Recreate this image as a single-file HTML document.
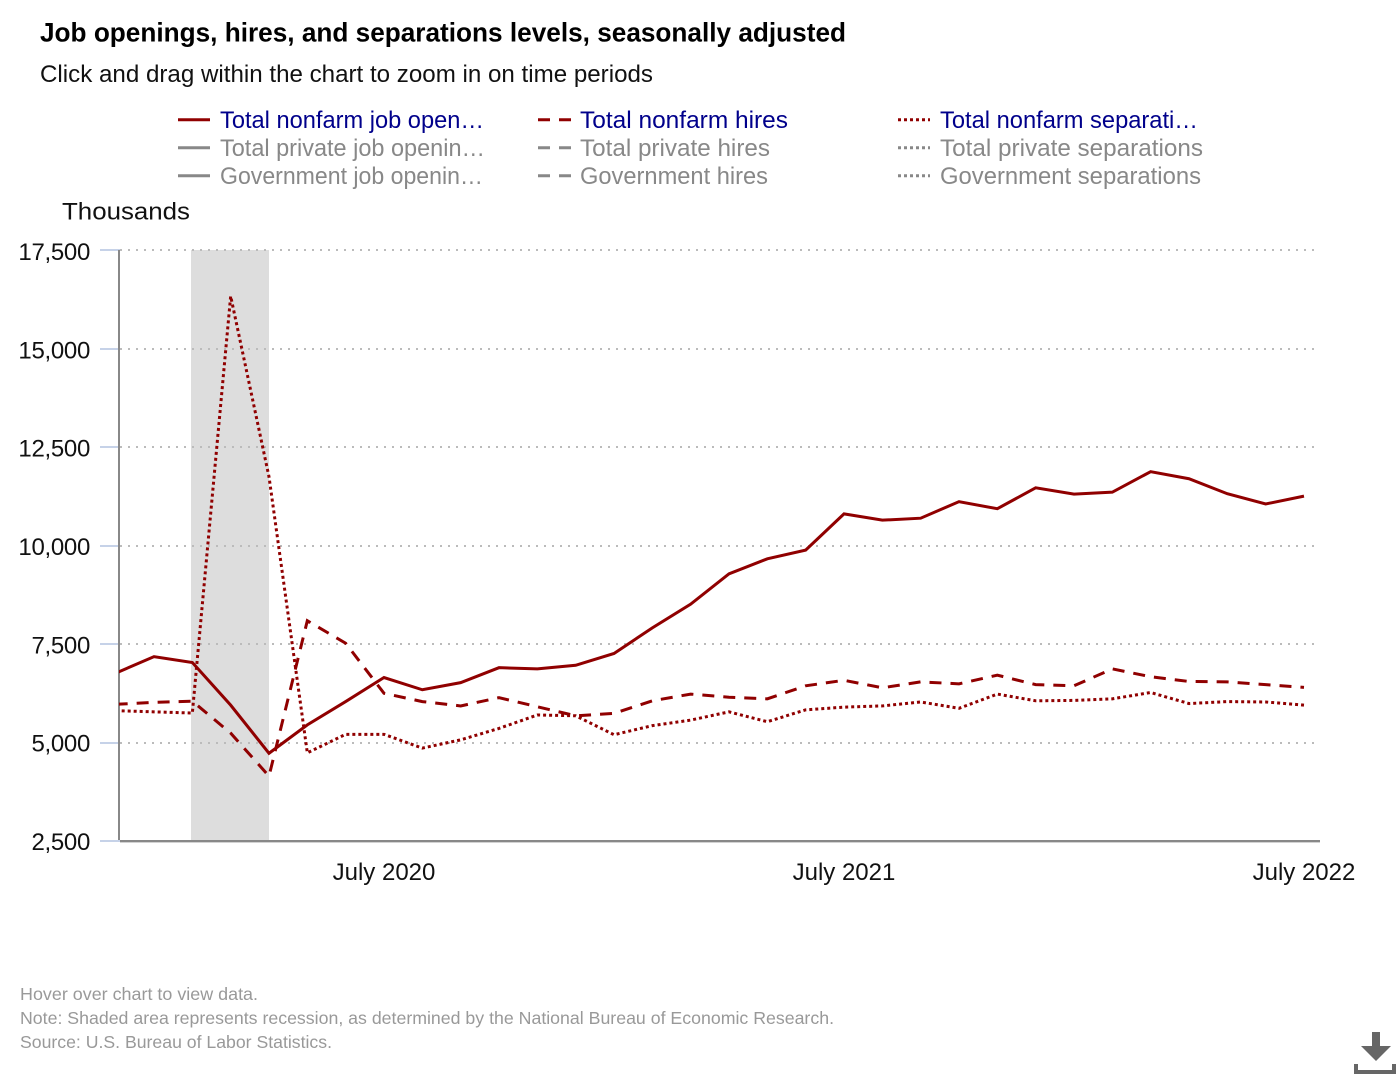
<!DOCTYPE html>
<html lang="en">
<head>
<meta charset="utf-8">
<title>Job openings, hires, and separations levels, seasonally adjusted</title>
<style>
html,body{margin:0;padding:0;background:#fff;width:1400px;height:1080px;overflow:hidden}
svg{display:block;font-family:"Liberation Sans",Arial,sans-serif}
.leg{font-size:24px;cursor:pointer}
.on{fill:#00008b}
.off{fill:#888888}
.foot{font-size:17.5px;fill:#999999}
</style>
</head>
<body>
<svg id="chart" width="1400" height="1080" viewBox="0 0 1400 1080" xmlns="http://www.w3.org/2000/svg">
<defs><clipPath id="plot-clip"><rect x="119" y="240" width="1201" height="602"/></clipPath></defs>
<text x="40" y="41.5" font-size="27" font-weight="700" fill="#000" textLength="806" lengthAdjust="spacingAndGlyphs">Job openings, hires, and separations levels, seasonally adjusted</text>
<text x="40" y="82" font-size="24" fill="#111" textLength="613" lengthAdjust="spacingAndGlyphs">Click and drag within the chart to zoom in on time periods</text>

<g>
<g><line x1="178" x2="210" y1="119.7" y2="119.7" stroke="#900000" stroke-width="3"/><text class="leg on" x="220" y="128" textLength="264" lengthAdjust="spacingAndGlyphs">Total nonfarm job open…</text></g>
<g><line x1="538" x2="571" y1="119.7" y2="119.7" stroke="#900000" stroke-width="3" stroke-dasharray="12 9"/><text class="leg on" x="580" y="128" textLength="208" lengthAdjust="spacingAndGlyphs">Total nonfarm hires</text></g>
<g><line x1="898" x2="930" y1="119.7" y2="119.7" stroke="#900000" stroke-width="3" stroke-dasharray="3 3"/><text class="leg on" x="940" y="128" textLength="258" lengthAdjust="spacingAndGlyphs">Total nonfarm separati…</text></g>
<g><line x1="178" x2="210" y1="147.7" y2="147.7" stroke="#888" stroke-width="3"/><text class="leg off" x="220" y="156" textLength="265" lengthAdjust="spacingAndGlyphs">Total private job openin…</text></g>
<g><line x1="538" x2="571" y1="147.7" y2="147.7" stroke="#888" stroke-width="3" stroke-dasharray="12 9"/><text class="leg off" x="580" y="156" textLength="190" lengthAdjust="spacingAndGlyphs">Total private hires</text></g>
<g><line x1="898" x2="930" y1="147.7" y2="147.7" stroke="#888" stroke-width="3" stroke-dasharray="3 3"/><text class="leg off" x="940" y="156" textLength="263" lengthAdjust="spacingAndGlyphs">Total private separations</text></g>
<g><line x1="178" x2="210" y1="175.7" y2="175.7" stroke="#888" stroke-width="3"/><text class="leg off" x="220" y="184" textLength="263" lengthAdjust="spacingAndGlyphs">Government job openin…</text></g>
<g><line x1="538" x2="571" y1="175.7" y2="175.7" stroke="#888" stroke-width="3" stroke-dasharray="12 9"/><text class="leg off" x="580" y="184" textLength="188" lengthAdjust="spacingAndGlyphs">Government hires</text></g>
<g><line x1="898" x2="930" y1="175.7" y2="175.7" stroke="#888" stroke-width="3" stroke-dasharray="3 3"/><text class="leg off" x="940" y="184" textLength="261" lengthAdjust="spacingAndGlyphs">Government separations</text></g>
</g>

<text x="62" y="219.5" font-size="24" fill="#111" textLength="128" lengthAdjust="spacingAndGlyphs">Thousands</text>

<g id="plot"></g>

<text class="foot" x="20" y="1000" textLength="238" lengthAdjust="spacingAndGlyphs">Hover over chart to view data.</text>
<text class="foot" x="20" y="1024" textLength="814" lengthAdjust="spacingAndGlyphs">Note: Shaded area represents recession, as determined by the National Bureau of Economic Research.</text>
<text class="foot" x="20" y="1048" textLength="312" lengthAdjust="spacingAndGlyphs">Source: U.S. Bureau of Labor Statistics.</text>

<g fill="#666666">
<polygon points="1372,1032 1380,1032 1380,1046 1391,1046 1376,1061 1361,1046 1372,1046"/>
<polygon points="1354,1064 1358,1064 1358,1070 1392,1070 1392,1064 1396,1064 1396,1074 1354,1074"/>
</g>
</svg>
<script>
// Month index 0 = December 2019
const yTickValues = [2500, 5000, 7500, 10000, 12500, 15000, 17500];
const xTickLabels = ["July 2020", "July 2021", "July 2022"];
const xTickMonths = [7, 19, 31];
const recessionMonths = [2, 4];
const openings = [6770,7190,7040,5960,4740,5460,6050,6660,6350,6530,6910,6880,6970,7270,7920,8520,9290,9670,9890,10810,10650,10700,11120,10940,11470,11310,11360,11880,11700,11320,11060,11260];
const hires = [5980,6030,6060,5250,4160,8100,7530,6260,6050,5940,6150,5920,5690,5750,6070,6240,6160,6120,6450,6590,6400,6550,6500,6720,6480,6450,6880,6680,6560,6550,6480,6410];
const separations = [5820,5790,5760,16330,11750,4750,5220,5220,4870,5080,5370,5710,5690,5210,5440,5580,5790,5540,5840,5910,5940,6040,5880,6240,6070,6080,6120,6280,6000,6050,6040,5960];

const NS = 'http://www.w3.org/2000/svg';
const plot = document.getElementById('plot');
function x(month) { return 115.67 + month * 38.333; }
function y(value) { return 841.6 - (value - 2500) * 98.6 / 2500; }
function gridY(value) { return Math.min(841, Math.max(249, Math.round(y(value)))); }
function labelY(value) { return 850 - (value - 2500) * 98.33 / 2500; }
function make(tag, parent) {
  const el = document.createElementNS(NS, tag);
  parent.appendChild(el);
  return el;
}
function fmt(v) { return String(v).replace(/\B(?=(\d{3})+$)/g, ','); }
function linePath(values) {
  return values.map((v, i) => (i ? 'L' : 'M') + x(i).toFixed(2) + ' ' + y(v).toFixed(2)).join(' ');
}

const band = make('rect', plot);


band.setAttribute('x', Math.round(x(recessionMonths[0])) - 1);
band.setAttribute('width', Math.round(x(recessionMonths[1])) - Math.round(x(recessionMonths[0])) + 1);
band.setAttribute('y', 250);
band.setAttribute('height', 591);
band.setAttribute('fill', '#dddddd');

yTickValues.forEach(function (v) {
  const py = gridY(v);
  if (v !== yTickValues[0]) {
    const grid = make('line', plot);
    
    
    grid.setAttribute('x1', 120);
    grid.setAttribute('x2', 1316);
    grid.setAttribute('y1', py);
    grid.setAttribute('y2', py);
    grid.setAttribute('stroke', '#bbbbbb');
    grid.setAttribute('stroke-width', 2);
    grid.setAttribute('stroke-dasharray', '2 6');
  }
  const tick = make('line', plot);
  
  
  tick.setAttribute('x1', 100);
  tick.setAttribute('x2', 120);
  tick.setAttribute('y1', py);
  tick.setAttribute('y2', py);
  tick.setAttribute('stroke', '#c6d2e8');
  tick.setAttribute('stroke-width', 2);
  const label = make('text', plot);
  
  
  label.setAttribute('x', 90);
  label.setAttribute('y', labelY(v));
  label.setAttribute('text-anchor', 'end');
  label.setAttribute('font-size', 24);
  label.setAttribute('letter-spacing', '-0.3');
  label.setAttribute('fill', '#111111');
  label.textContent = fmt(v);
});

const yAxis = make('line', plot);


yAxis.setAttribute('x1', 119);
yAxis.setAttribute('x2', 119);
yAxis.setAttribute('y1', 250);
yAxis.setAttribute('y2', 840);
yAxis.setAttribute('stroke', '#888888');
yAxis.setAttribute('stroke-width', 2);

const xAxis = make('line', plot);


xAxis.setAttribute('x1', 120);
xAxis.setAttribute('x2', 1320);
xAxis.setAttribute('y1', 841.2);
xAxis.setAttribute('y2', 841.2);
xAxis.setAttribute('stroke', '#888888');
xAxis.setAttribute('stroke-width', 2.4);

xTickLabels.forEach(function (txt, i) {
  const label = make('text', plot);
  
  
  label.setAttribute('x', x(xTickMonths[i]));
  label.setAttribute('y', 880);
  label.setAttribute('text-anchor', 'middle');
  label.setAttribute('font-size', 24);
  label.setAttribute('fill', '#111111');
  label.textContent = txt;
});

const seriesGroup = make('g', plot);
seriesGroup.setAttribute('clip-path', 'url(#plot-clip)');



const sepLine = make('path', seriesGroup);


sepLine.setAttribute('d', linePath(separations));
sepLine.setAttribute('fill', 'none');
sepLine.setAttribute('stroke', '#900000');
sepLine.setAttribute('stroke-width', 3);
sepLine.setAttribute('stroke-dasharray', '3 3');

const hiresLine = make('path', seriesGroup);


hiresLine.setAttribute('d', linePath(hires));
hiresLine.setAttribute('fill', 'none');
hiresLine.setAttribute('stroke', '#900000');
hiresLine.setAttribute('stroke-width', 3);
hiresLine.setAttribute('stroke-dasharray', '12 9');

const openLine = make('path', seriesGroup);


openLine.setAttribute('d', linePath(openings));
openLine.setAttribute('fill', 'none');
openLine.setAttribute('stroke', '#900000');
openLine.setAttribute('stroke-width', 3);
</script>
</body>
</html>
